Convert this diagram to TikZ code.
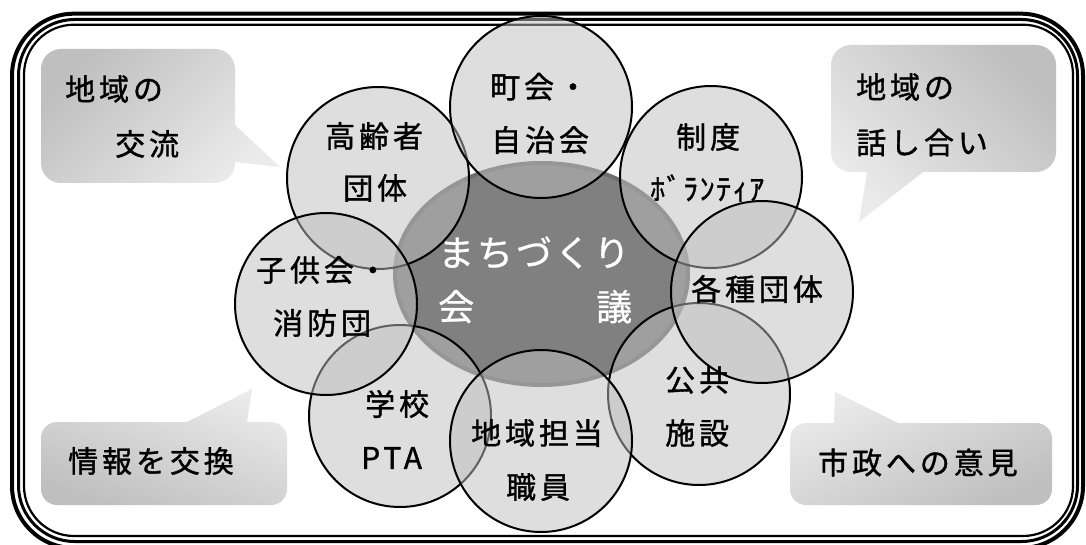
\documentclass[tikz,border=0pt]{standalone}
\usepackage{fontspec}
\newfontfamily\jp{Noto Sans CJK JP}[LetterSpace=13,FakeBold=1.2]
\newfontfamily\jpk{Noto Sans CJK JP}[LetterSpace=5,FakeBold=1.2]
\newfontfamily\jpc{Noto Sans CJK JP}[LetterSpace=8,FakeBold=0.8]
\usetikzlibrary{shapes.geometric}
\definecolor{circfill}{gray}{0.745}
\definecolor{ellfill}{gray}{0.5}
\definecolor{ellline}{gray}{0.43}
\definecolor{bubdark}{gray}{0.75}
\definecolor{bublight}{gray}{0.92}
\tikzset{
  member/.style={circle, draw=black, line width=2pt, fill=circfill, fill opacity=0.5, draw opacity=1,
    minimum size=182pt, inner sep=0pt, outer sep=0pt},
  core/.style={ellipse, draw=ellline, line width=4pt, fill=ellfill, minimum width=293pt,
    minimum height=222pt, inner sep=0pt},
  lbl/.style={anchor=west, inner sep=0pt, font=\jp\fontsize{30}{36}\selectfont},
  lblk/.style={anchor=west, inner sep=0pt, font=\jpk\fontsize{30}{36}\selectfont},
  lblc/.style={anchor=west, inner sep=0pt, text=white, font=\jpc\fontsize{36}{42}\selectfont},
  frameline/.style={draw=black},
}
\begin{document}
\begin{tikzpicture}[x=1pt,y=-1pt]
\useasboundingbox[fill=white] (0,0) rectangle (1086,545);
% frame
\draw[frameline, line width=4pt, rounded corners=62pt] (12,13.7) rectangle (1083,548);
\draw[frameline, line width=3pt, rounded corners=56pt] (18.5,19.5) rectangle (1077.5,541.5);
\draw[frameline, line width=2.2pt, rounded corners=50pt] (24,24.7) rectangle (1073,536);
% bubbles
\shade[top color=bubdark, bottom color=bublight, shading angle=45]
  [rounded corners=20pt] (41,49) rectangle (235,183)
  [sharp corners] (235,125) -- (280,167) -- (235,162) -- cycle;
\shade[top color=bubdark, bottom color=bublight, shading angle=-45]
  [rounded corners=20pt] (831,45) rectangle (1056,172)
  [sharp corners] (867,172) -- (859,222) -- (923,172) -- cycle;
\shade[top color=bublight, bottom color=bubdark, shading angle=-20]
  [rounded corners=16pt] (41,422) rectangle (287,505)
  [sharp corners] (187,422) -- (252,389) -- (247,422) -- cycle;
\shade[top color=bublight, bottom color=bubdark, shading angle=25]
  [rounded corners=16pt] (790,423) rectangle (1052,505)
  [sharp corners] (834,423) -- (835,392) -- (898,423) -- cycle;
% central ellipse
\node[core] (core) at (541.5,274) {};
% member circles
\node[member] (elder)  at (378,178) {};
\node[member] (town)   at (541,107) {};
\node[member] (vol)    at (711,177) {};
\node[member] (school) at (400,416) {};
\node[member] (pub)    at (699,394) {};
\node[member] (kids)   at (326,304) {};
\node[member] (groups) at (762,292) {};
\node[member] (staff)  at (541,441) {};
% bubble texts
\node[lbl] (b1a) at (65,89) {地域の};
\node[lbl] (b1b) at (115,144) {交流};
\node[lbl] (b2a) at (856,87) {地域の};
\node[lbl] (b2b) at (856,142.5) {話し合い};
\node[lbl] (b3) at (68,461) {情報を交換};
\node[lbl] (b4) at (818,462.5) {市政への意見};
% circle texts
\node[lbl] (t1a) at (490,86.7) {町会・};
\node[lbl] (t1b) at (491,140) {自治会};
\node[lbl] (t2a) at (325,136) {高齢者};
\node[lbl] (t2b) at (343,188) {団体};
\node[lbl] (t3a) at (676,137) {制度};
\node[lblk] (t3b) at (650,188) {ﾎﾞﾗﾝﾃｨｱ};
\node[lbl] (t4a) at (256,270) {子供会・};
\node[lbl] (t4b) at (273,323) {消防団};
\node[lbl] (t5) at (691,289) {各種団体};
\node[lbl] (t6a) at (365,404) {学校};
\node[lbl] (t6b) at (361,458) {PTA};
\node[lbl] (t7a) at (471,433) {地域担当};
\node[lbl] (t7b) at (506,487) {職員};
\node[lbl] (t8a) at (665,380) {公共};
\node[lbl] (t8b) at (665,433) {施設};
% core texts
\node[lblc] (c1) at (438,252.5) {まちづくり};
\node[lblc] (c2) at (438,306.7) {会};
\node[lblc] (c3) at (596,306.7) {議};
\end{tikzpicture}
\end{document}
